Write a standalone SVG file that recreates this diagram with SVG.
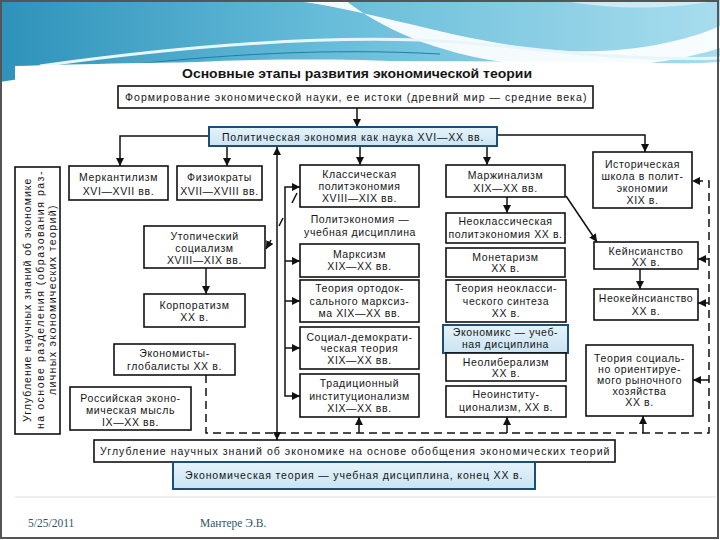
<svg xmlns="http://www.w3.org/2000/svg" width="720" height="540" viewBox="0 0 720 540">
<defs>
<linearGradient id="hdr" x1="0" y1="0" x2="1" y2="0">
<stop offset="0" stop-color="#2e92ba"/>
<stop offset="0.45" stop-color="#66bcd9"/>
<stop offset="1" stop-color="#a8ddee"/>
</linearGradient>
<linearGradient id="blu" x1="0" y1="0" x2="0" y2="1">
<stop offset="0" stop-color="#e6f3fa"/>
<stop offset="1" stop-color="#c9e4f3"/>
</linearGradient>
<marker id="ah" viewBox="0 0 10 10" refX="10" refY="5" markerWidth="8" markerHeight="8" markerUnits="userSpaceOnUse" orient="auto-start-reverse">
<path d="M0,0 L10,5 L0,10 z" fill="#111"/>
</marker>
<style>
.b{fill:#fff;stroke:#111;stroke-width:1.6}
.bb{fill:url(#blu);stroke:#1d4e78;stroke-width:2}
.t{font-family:"Liberation Sans",Arial,sans-serif;font-size:10.5px;fill:#151515;text-anchor:middle;letter-spacing:0.6px}
.c{stroke:#111;stroke-width:1.5;fill:none}
.d{stroke-dasharray:8 5}
.f{font-family:"Liberation Serif","DejaVu Serif",serif;font-size:11.5px;fill:#2f5566}
</style>
</defs>

<!-- slide background -->
<rect x="0" y="0" width="720" height="540" fill="#fff"/>
<path d="M0,0 H720 V62 C600,70 480,64 360,60 C240,58 120,62 0,82 Z" fill="url(#hdr)"/>
<path d="M290,0 C370,10 440,36 530,48 C610,58 680,44 720,26 L720,48 C670,64 600,72 520,64 C440,56 380,28 345,0 Z" fill="#fff" opacity="0.92"/>
<path d="M560,0 C620,12 680,8 720,0 Z" fill="#d8f1f8" opacity="0.8"/>
<path d="M40,66 C170,48 300,36 420,40 C520,44 600,62 720,58" fill="none" stroke="#e8f6fb" stroke-width="3"/>
<path d="M100,68 C220,54 330,48 440,54" fill="none" stroke="#1f7ea5" stroke-width="1"/>
<path d="M15,66 C200,60 500,60 720,64 V540 H15 Z" fill="#fff"/>
<rect x="1" y="1" width="717" height="537" fill="none" stroke="#555" stroke-width="2"/>
<line x1="15" y1="497" x2="716" y2="497" stroke="#ddd" stroke-width="1"/>

<text x="357" y="78" font-family="Liberation Sans, Arial, sans-serif" font-size="13" font-weight="bold" fill="#151515" text-anchor="middle" textLength="350" lengthAdjust="spacingAndGlyphs">Основные этапы развития экономической теории</text>

<g id="connectors">
<line class="c" x1="357" y1="108" x2="357" y2="127" marker-end="url(#ah)"/>
<polyline class="c" points="209,136 120,136 120,166" marker-end="url(#ah)"/>
<line class="c" x1="227" y1="136" x2="227" y2="166" marker-end="url(#ah)"/>
<line class="c" x1="360" y1="146" x2="360" y2="165" marker-end="url(#ah)"/>
<line class="c" x1="487" y1="146" x2="487" y2="165" marker-end="url(#ah)"/>
<polyline class="c" points="497,135 645,135 645,152" marker-end="url(#ah)"/>
<line class="c" x1="507" y1="197" x2="507" y2="213" marker-end="url(#ah)"/>
<line class="c" x1="566" y1="196" x2="597" y2="242" marker-end="url(#ah)"/>
<line class="c" x1="640" y1="269" x2="640" y2="289" marker-end="url(#ah)"/>
<line class="c" x1="206" y1="268" x2="206" y2="294" marker-end="url(#ah)"/>
<line class="c" x1="277" y1="147" x2="277" y2="440" marker-start="url(#ah)" marker-end="url(#ah)"/>
<polyline class="c" points="300,187 285,187 285,396 300,396" marker-start="url(#ah)" marker-end="url(#ah)"/>
<line class="c" x1="285" y1="261" x2="300" y2="261" marker-end="url(#ah)"/>
<line class="c" x1="285" y1="301" x2="300" y2="301" marker-end="url(#ah)"/>
<line class="c" x1="285" y1="348" x2="300" y2="348" marker-end="url(#ah)"/>
<line class="c" x1="297" y1="193" x2="292" y2="203"/>
<line class="c" x1="283" y1="218" x2="279" y2="226"/>
<line class="c" x1="271" y1="240" x2="266" y2="249" marker-end="url(#ah)"/>
<polyline class="c d" points="206,375 206,433 709,433 709,181 692,181" marker-end="url(#ah)"/>
<line class="c" x1="709" y1="259" x2="698" y2="259" marker-end="url(#ah)"/>
<line class="c" x1="709" y1="303" x2="698" y2="303" marker-end="url(#ah)"/>
<line class="c" x1="709" y1="380" x2="693" y2="380" marker-end="url(#ah)"/>
<line class="c" x1="359" y1="433" x2="359" y2="417" marker-end="url(#ah)"/>
<line class="c" x1="507" y1="433" x2="507" y2="417" marker-end="url(#ah)"/>
<line class="c" x1="643" y1="433" x2="643" y2="416" marker-end="url(#ah)"/>
</g>

<g id="n-formation"><rect class="b" x="118" y="86" width="475" height="22"/><text class="t" x="356" y="101" textLength="462" lengthAdjust="spacing">Формирование экономической науки, ее истоки (древний мир — средние века)</text></g>
<g id="n-polit"><rect class="bb" x="209" y="127" width="288" height="19"/><text class="t" x="353" y="141" textLength="262" lengthAdjust="spacing">Политическая экономия как наука XVI—XX вв.</text></g>
<g id="n-left"><rect class="b" x="15" y="167" width="45" height="267"/>
<text class="t" transform="translate(31,300) rotate(-90)" font-size="11" textLength="244" lengthAdjust="spacing">Углубление научных знаний об экономике</text>
<text class="t" transform="translate(44,300) rotate(-90)" font-size="11" textLength="258" lengthAdjust="spacing">на основе разделения (образования раз-</text>
<text class="t" transform="translate(56,300) rotate(-90)" font-size="11" textLength="190" lengthAdjust="spacing">личных экономических теорий)</text></g>
<g id="n-merk"><rect class="b" x="69" y="166" width="99" height="34"/><text class="t" font-size="11"><tspan x="118.5" y="181">Меркантилизм</tspan><tspan x="118.5" y="195">XVI—XVII вв.</tspan></text></g>
<g id="n-fiz"><rect class="b" x="177" y="166" width="85" height="34"/><text class="t" font-size="11"><tspan x="219.5" y="181">Физиократы</tspan><tspan x="219.5" y="195">XVII—XVIII вв.</tspan></text></g>
<g id="n-klass"><rect class="b" x="300" y="165" width="119" height="42"/><text class="t"><tspan x="359.5" y="178">Классическая</tspan><tspan x="359.5" y="190">политэкономия</tspan><tspan x="359.5" y="202">XVIII—XIX вв.</tspan></text></g>
<g id="n-marg"><rect class="b" x="446" y="165" width="119" height="32"/><text class="t"><tspan x="505.5" y="179">Маржинализм</tspan><tspan x="505.5" y="192">XIX—XX вв.</tspan></text></g>
<g id="n-hist"><rect class="b" x="593" y="152" width="99" height="56"/><text class="t"><tspan x="642.5" y="168">Историческая</tspan><tspan x="642.5" y="180">школа в полит-</tspan><tspan x="642.5" y="192">экономии</tspan><tspan x="642.5" y="204">XIX в.</tspan></text></g>
<g id="n-uchebn"><text class="t" font-size="11"><tspan x="360" y="223">Политэкономия —</tspan><tspan x="360" y="236">учебная дисциплина</tspan></text></g>
<g id="n-utop"><rect class="b" x="144" y="226" width="121" height="42"/><text class="t" font-size="11"><tspan x="204.5" y="240">Утопический</tspan><tspan x="204.5" y="252">социализм</tspan><tspan x="204.5" y="264">XVIII—XIX вв.</tspan></text></g>
<g id="n-neoklass"><rect class="b" x="446" y="213" width="119" height="30"/><text class="t"><tspan x="505.5" y="225">Неоклассическая</tspan><tspan x="505.5" y="238">политэкономия XX в.</tspan></text></g>
<g id="n-marx"><rect class="b" x="300" y="244" width="119" height="33"/><text class="t"><tspan x="359.5" y="258">Марксизм</tspan><tspan x="359.5" y="270">XIX—XX вв.</tspan></text></g>
<g id="n-monet"><rect class="b" x="446" y="248" width="119" height="29"/><text class="t" font-size="11"><tspan x="505.5" y="261">Монетаризм</tspan><tspan x="505.5" y="272">XX в.</tspan></text></g>
<g id="n-keyns"><rect class="b" x="594" y="242" width="104" height="27"/><text class="t"><tspan x="646" y="255">Кейнсианство</tspan><tspan x="646" y="266">XX в.</tspan></text></g>
<g id="n-neokeyns"><rect class="b" x="594" y="289" width="104" height="31"/><text class="t"><tspan x="646" y="302">Неокейнсианство</tspan><tspan x="646" y="315">XX в.</tspan></text></g>
<g id="n-korp"><rect class="b" x="144" y="294" width="101" height="33"/><text class="t"><tspan x="194.5" y="309">Корпоратизм</tspan><tspan x="194.5" y="321">XX в.</tspan></text></g>
<g id="n-orto"><rect class="b" x="300" y="280" width="119" height="42"/><text class="t"><tspan x="359.5" y="292">Теория ортодок-</tspan><tspan x="359.5" y="305">сального марксиз-</tspan><tspan x="359.5" y="317">ма XIX—XX вв.</tspan></text></g>
<g id="n-sintez"><rect class="b" x="446" y="280" width="120" height="42"/><text class="t"><tspan x="506" y="292">Теория неокласси-</tspan><tspan x="506" y="305">ческого синтеза</tspan><tspan x="506" y="317">XX в.</tspan></text></g>
<g id="n-socdem"><rect class="b" x="300" y="327" width="119" height="42"/><text class="t" font-size="11"><tspan x="359.5" y="341">Социал-демократи-</tspan><tspan x="359.5" y="352">ческая теория</tspan><tspan x="359.5" y="364">XIX—XX вв.</tspan></text></g>
<g id="n-economics"><rect class="bb" x="443" y="325" width="125" height="28"/><text class="t"><tspan x="505.5" y="336">Экономикс — учеб-</tspan><tspan x="505.5" y="348">ная дисциплина</tspan></text></g>
<g id="n-neolib"><rect class="b" x="446" y="353" width="120" height="28"/><text class="t"><tspan x="506" y="366">Неолиберализм</tspan><tspan x="506" y="377">XX в.</tspan></text></g>
<g id="n-socrynok"><rect class="b" x="586" y="345" width="107" height="71"/><text class="t" font-size="10"><tspan x="639.5" y="362">Теория социаль-</tspan><tspan x="639.5" y="373">но ориентируе-</tspan><tspan x="639.5" y="384">мого рыночного</tspan><tspan x="639.5" y="395">хозяйства</tspan><tspan x="639.5" y="406">XX в.</tspan></text></g>
<g id="n-global"><rect class="b" x="114" y="344" width="121" height="31"/><text class="t" font-size="11"><tspan x="174.5" y="357">Экономисты-</tspan><tspan x="174.5" y="370">глобалисты XX в.</tspan></text></g>
<g id="n-trad"><rect class="b" x="300" y="374" width="119" height="43"/><text class="t" font-size="11"><tspan x="359.5" y="387">Традиционный</tspan><tspan x="359.5" y="400">институционализм</tspan><tspan x="359.5" y="412">XIX—XX вв.</tspan></text></g>
<g id="n-neoinst"><rect class="b" x="446" y="386" width="120" height="31"/><text class="t" font-size="11"><tspan x="506" y="398">Неоинститу-</tspan><tspan x="506" y="411">ционализм, XX в.</tspan></text></g>
<g id="n-russ"><rect class="b" x="70" y="387" width="121" height="43"/><text class="t"><tspan x="130.5" y="402">Российская эконо-</tspan><tspan x="130.5" y="414">мическая мысль</tspan><tspan x="130.5" y="426">IX—XX вв.</tspan></text></g>
<g id="n-obobsh"><rect class="b" x="94" y="440" width="521" height="22"/><text class="t" x="355" y="455" textLength="510" lengthAdjust="spacing">Углубление научных знаний об экономике на основе обобщения экономических теорий</text></g>
<g id="n-final"><rect class="bb" x="173" y="462" width="362" height="27" stroke-width="2.5"/><text class="t" x="354" y="479" font-size="11" textLength="338" lengthAdjust="spacing">Экономическая теория — учебная дисциплина, конец XX в.</text></g>

<text class="f" x="28" y="527">5/25/2011</text>
<text class="f" x="200" y="527">Мантере Э.В.</text>
</svg>
